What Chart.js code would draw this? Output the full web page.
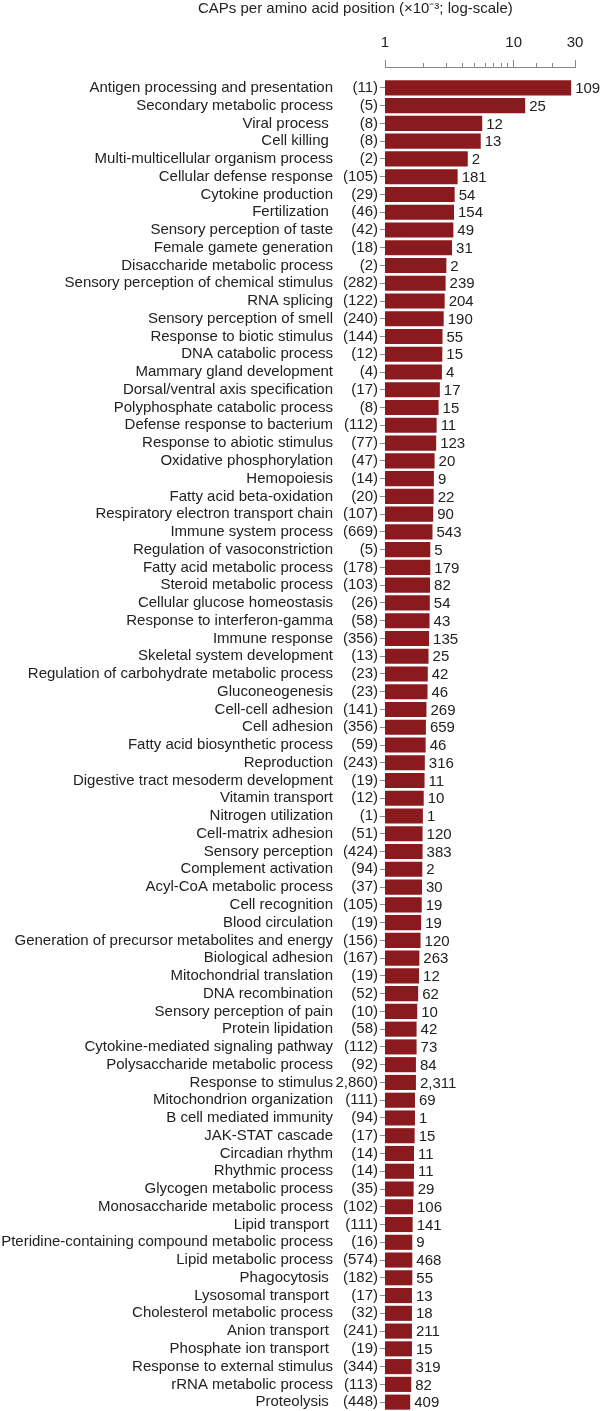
<!DOCTYPE html>
<html lang="en">
<head>
  <meta charset="UTF-8" />
  <title>CAPs per amino acid position by GO process</title>
  <script src="https://cdn.jsdelivr.net/npm/chart.js"></script>
  <style>
    body { margin: 0; background: #fff; overflow: hidden; }
    .chart-box { position: relative; width: 600px; height: 1411px; }
  </style>
</head>
<body>
<div class="chart-box">
  <canvas id="capChart"></canvas>
</div>

<script>
  const processNames = [
    'Antigen processing and presentation', 'Secondary metabolic process', 'Viral process ', 'Cell killing ',
    'Multi-multicellular organism process', 'Cellular defense response', 'Cytokine production', 'Fertilization ',
    'Sensory perception of taste', 'Female gamete generation', 'Disaccharide metabolic process',
    'Sensory perception of chemical stimulus', 'RNA splicing', 'Sensory perception of smell',
    'Response to biotic stimulus', 'DNA catabolic process', 'Mammary gland development',
    'Dorsal/ventral axis specification', 'Polyphosphate catabolic process', 'Defense response to bacterium',
    'Response to abiotic stimulus', 'Oxidative phosphorylation', 'Hemopoiesis', 'Fatty acid beta-oxidation',
    'Respiratory electron transport chain', 'Immune system process', 'Regulation of vasoconstriction',
    'Fatty acid metabolic process', 'Steroid metabolic process', 'Cellular glucose homeostasis',
    'Response to interferon-gamma', 'Immune response', 'Skeletal system development',
    'Regulation of carbohydrate metabolic process', 'Gluconeogenesis', 'Cell-cell adhesion', 'Cell adhesion',
    'Fatty acid biosynthetic process', 'Reproduction', 'Digestive tract mesoderm development',
    'Vitamin transport', 'Nitrogen utilization', 'Cell-matrix adhesion', 'Sensory perception',
    'Complement activation', 'Acyl-CoA metabolic process', 'Cell recognition', 'Blood circulation',
    'Generation of precursor metabolites and energy', 'Biological adhesion', 'Mitochondrial translation',
    'DNA recombination', 'Sensory perception of pain', 'Protein lipidation', 'Cytokine-mediated signaling pathway',
    'Polysaccharide metabolic process', 'Response to stimulus', 'Mitochondrion organization',
    'B cell mediated immunity', 'JAK-STAT cascade', 'Circadian rhythm', 'Rhythmic process',
    'Glycogen metabolic process', 'Monosaccharide metabolic process', 'Lipid transport ',
    'Pteridine-containing compound metabolic process', 'Lipid metabolic process', 'Phagocytosis ',
    'Lysosomal transport ', 'Cholesterol metabolic process', 'Anion transport ', 'Phosphate ion transport ',
    'Response to external stimulus', 'rRNA metabolic process', 'Proteolysis '
  ];

  // number of genes per process (in brackets)
  const geneCounts = [
    '(11)', '(5)', '(8)', '(8)', '(2)', '(105)', '(29)', '(46)', '(42)', '(18)', '(2)', '(282)', '(122)',
    '(240)', '(144)', '(12)', '(4)', '(17)', '(8)', '(112)', '(77)', '(47)', '(14)', '(20)', '(107)', '(669)',
    '(5)', '(178)', '(103)', '(26)', '(58)', '(356)', '(13)', '(23)', '(23)', '(141)', '(356)', '(59)', '(243)',
    '(19)', '(12)', '(1)', '(51)', '(424)', '(94)', '(37)', '(105)', '(19)', '(156)', '(167)', '(19)', '(52)',
    '(10)', '(58)', '(112)', '(92)', '(2,860)', '(111)', '(94)', '(17)', '(14)', '(14)', '(35)', '(102)',
    '(111)', '(16)', '(574)', '(182)', '(17)', '(32)', '(241)', '(19)', '(344)', '(113)', '(448)'
  ];

  // CAPs per amino acid position (x10^-3)
  const capRates = [
    28.0, 12.3, 5.7, 5.55, 4.4, 3.67, 3.48, 3.44, 3.40, 3.32, 3.0, 2.96, 2.91, 2.86, 2.80, 2.79, 2.77,
    2.67, 2.61, 2.52, 2.50, 2.43, 2.40, 2.39, 2.37, 2.34, 2.25, 2.25, 2.24, 2.23, 2.22, 2.20, 2.18, 2.15,
    2.14, 2.10, 2.08, 2.07, 2.04, 2.03, 2.00, 1.97, 1.96, 1.96, 1.95, 1.94, 1.93, 1.91, 1.89, 1.85, 1.84,
    1.81, 1.78, 1.76, 1.76, 1.74, 1.74, 1.71, 1.71, 1.70, 1.68, 1.68, 1.67, 1.65, 1.64, 1.63, 1.63, 1.63,
    1.62, 1.62, 1.62, 1.62, 1.61, 1.60, 1.57
  ];

  // number of CAPs (label right of each bar)
  const capCounts = [
    '109', '25', '12', '13', '2', '181', '54', '154', '49', '31', '2', '239', '204', '190', '55', '15', '4',
    '17', '15', '11', '123', '20', '9', '22', '90', '543', '5', '179', '82', '54', '43', '135', '25', '42',
    '46', '269', '659', '46', '316', '11', '10', '1', '120', '383', '2', '30', '19', '19', '120', '263', '12',
    '62', '10', '42', '73', '84', '2,311', '69', '1', '15', '11', '11', '29', '106', '141', '9', '468', '55',
    '13', '18', '211', '15', '319', '82', '409'
  ];

  const xTickLabels = [1, 10, 30];

  const FONT = '"Liberation Sans", Arial, Helvetica, sans-serif';
  const TEXT = '#222';
  Chart.defaults.font.family = FONT;
  Chart.defaults.font.size = 15;
  Chart.defaults.color = TEXT;

  // widest process name, so the mirrored (unclipped) labels can be right-aligned
  const measureCtx = document.createElement('canvas').getContext('2d');
  measureCtx.font = '15px ' + FONT;
  const widestName = Math.max(...processNames.map(n => measureCtx.measureText(n).width));

  // counts to the right of each bar
  const valueLabels = {
    id: 'valueLabels',
    afterDatasetsDraw(chart) {
      const ctx = chart.ctx;
      const meta = chart.getDatasetMeta(0);
      ctx.save();
      ctx.font = '15px ' + FONT;
      ctx.fillStyle = TEXT;
      ctx.textAlign = 'left';
      ctx.textBaseline = 'middle';
      meta.data.forEach((bar, i) => ctx.fillText(capCounts[i], bar.x + 4, bar.y + 1));
      ctx.restore();
    }
  };

  const noEdgePadding = s => { s.paddingTop = 0; s.paddingBottom = 0; };

  new Chart(document.getElementById('capChart'), {
    type: 'bar',
    data: {
      labels: processNames,
      datasets: [{
        data: capRates,
        backgroundColor: '#8b1a1e',
        barPercentage: 0.85,
        categoryPercentage: 1
      }]
    },
    options: {
      indexAxis: 'y',
      responsive: true,
      maintainAspectRatio: false,
      animation: false,
      layout: { padding: { left: 198, right: 25, top: 0, bottom: 0 } },
      plugins: {
        legend: { display: false },
        tooltip: { enabled: false },
        title: {
          display: true,
          text: 'CAPs per amino acid position (×10⁻³; log-scale)',
          align: 'start',
          color: TEXT,
          font: { size: 15, weight: 'normal' },
          padding: { top: 0, bottom: 16 }
        }
      },
      scales: {
        x: {
          type: 'logarithmic',
          position: 'top',
          weight: 2,
          min: 1,
          max: 30,
          grid: {
            drawOnChartArea: false,
            tickLength: 7,
            color: '#888',
            // minor ticks only show their lower 4px
            tickBorderDash: ctx => xTickLabels.includes(ctx.tick && ctx.tick.value) ? [] : [0, 3, 4, 100]
          },
          border: { color: '#888' },
          ticks: {
            padding: 8,
            autoSkip: false,
            maxRotation: 0,
            callback: v => xTickLabels.includes(v) ? String(v) : ''
          },
          afterFit: s => { s.height = 33; }
        },
        xGap: {
          type: 'linear',
          position: 'top',
          weight: 1,
          display: true,
          grid: { display: false },
          border: { display: false },
          ticks: { display: false },
          afterFit: s => { s.height = 12; }
        },
        y: {
          position: 'left',
          weight: 2,
          grid: { display: false, drawTicks: false },
          border: { display: false },
          ticks: { autoSkip: false, mirror: true, crossAlign: 'far', padding: -2 - widestName },
          afterFit: s => { s.width = 137; noEdgePadding(s); }
        },
        yCount: {
          type: 'category',
          position: 'left',
          weight: 1,
          labels: geneCounts,
          offset: true,
          grid: { drawOnChartArea: false, offset: false, tickLength: 5, color: '#888' },
          border: { display: false },
          ticks: { autoSkip: false, padding: 2 },
          afterFit: s => { s.width = 50; noEdgePadding(s); }
        }
      }
    },
    plugins: [valueLabels]
  });
</script>
</body>
</html>
